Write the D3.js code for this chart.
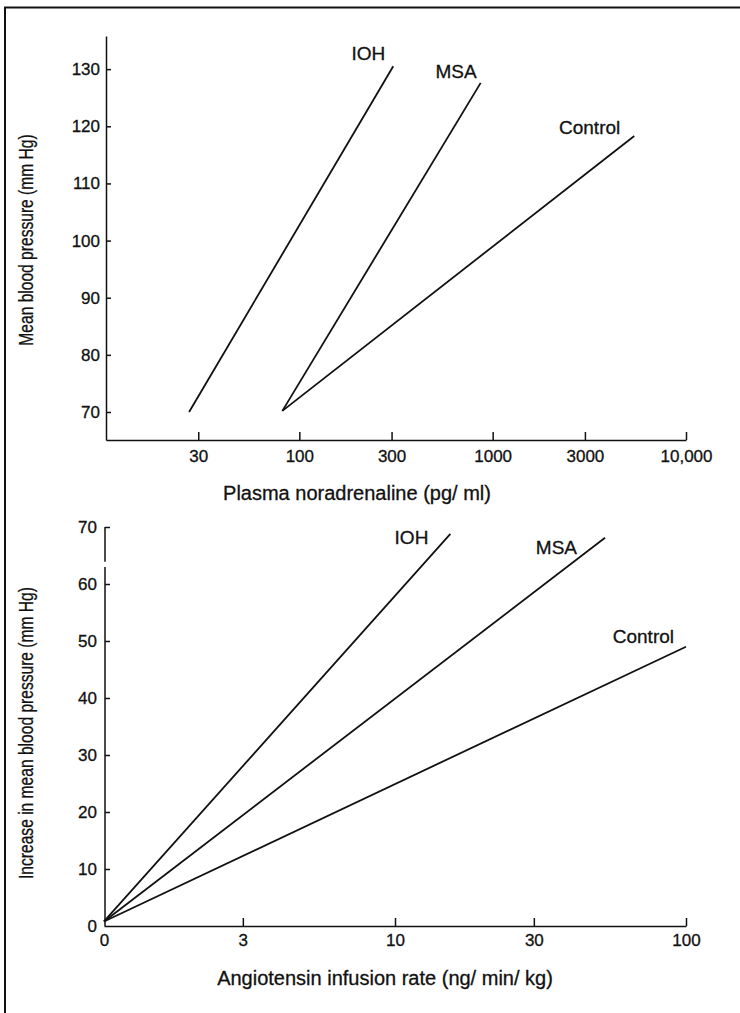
<!DOCTYPE html>
<html>
<head>
<meta charset="utf-8">
<script src="https://cdn.jsdelivr.net/npm/d3@7"></script>
<style>
  body { margin: 0; background: #fff; }
  svg { display: block; }
  text { font-family: "Liberation Sans", Arial, Helvetica, sans-serif; fill: #111; stroke: #111; stroke-width: 0.3px; }
</style>
</head>
<body>
<svg id="fig" width="740" height="1013"></svg>
<script>
// ---- Upper panel: blood pressure vs plasma noradrenaline (log x) ----
const noraGroups = ["IOH", "MSA", "Control"];
const noraStartX = [26.9, 81.7, 81.7];      // pg/ml
const noraEndX   = [306, 867, 5400];
const noraStartY = [70, 70.2, 70.2];        // mm Hg
const noraEndY   = [130.5, 127.6, 118.3];
const noraTicksX = [30, 100, 300, 1000, 3000, 10000];
const noraTickLabelsX = ["30", "100", "300", "1000", "3000", "10,000"];
const noraTicksY = [70, 80, 90, 100, 110, 120, 130];

// ---- Lower panel: rise in blood pressure vs angiotensin infusion (log x) ----
const angioGroups = ["IOH", "MSA", "Control"];
const angioStartX = [0, 0, 0];              // ng/min/kg
const angioEndX   = [15.5, 52.7, 100];
const angioStartY = [0.8, 0.8, 0.8];        // mm Hg increase
const angioEndY   = [68.8, 68.1, 49];
const angioTicksX = [0, 3, 10, 30, 100];
const angioTicksY = [0, 10, 20, 30, 40, 50, 60, 70];

const svg = d3.select("#fig");
const ink = "#111";
const narrow = 0.78;   // condensed lettering for the vertical titles

// outer frame (top and left rules)
svg.append("path")
  .attr("d", "M5,1013 V7.5 H740")
  .attr("fill", "none").attr("stroke", ink).attr("stroke-width", 2);

function styleAxis(g) {
  g.selectAll("path, line").attr("stroke", ink).attr("stroke-width", 1.5);
  g.selectAll("text").attr("font-size", 17).attr("fill", ink)
    .attr("font-family", "\"Liberation Sans\", Arial, sans-serif");
}

// ================= Upper panel =================
const xA = d3.scaleLog().domain([10, 10000]).range([106, 686]);
const yA = d3.scaleLinear().domain([65.1, 135.8]).range([440, 36]);

const axA_x = svg.append("g").attr("transform", `translate(0,${yA.range()[0]})`)
  .call(d3.axisBottom(xA).tickValues(noraTicksX)
    .tickFormat((d, i) => noraTickLabelsX[i])
    .tickSize(-8).tickSizeOuter(0).tickPadding(10));
styleAxis(axA_x);
axA_x.selectAll("text").attr("dy", "0.71em");

const axA_y = svg.append("g").attr("transform", `translate(${xA.range()[0]},0)`)
  .call(d3.axisLeft(yA).tickValues(noraTicksY)
    .tickSize(-5).tickSizeOuter(0).tickPadding(6));
styleAxis(axA_y);

const lineA = d3.line().x(d => xA(d[0])).y(d => yA(d[1]));
const labelOffA = [[-8, -6], [-4, -5], [-14, -2]];
noraGroups.forEach((name, i) => {
  const pts = [[noraStartX[i], noraStartY[i]], [noraEndX[i], noraEndY[i]]];
  svg.append("path").attr("d", lineA(pts))
    .attr("fill", "none").attr("stroke", ink).attr("stroke-width", 1.8);
  svg.append("text")
    .attr("x", xA(noraEndX[i]) + labelOffA[i][0])
    .attr("y", yA(noraEndY[i]) + labelOffA[i][1])
    .attr("text-anchor", "end").attr("font-size", 19)
    .text(name);
});

svg.append("text").attr("x", 357).attr("y", 500)
  .attr("text-anchor", "middle").attr("font-size", 20)
  .text("Plasma noradrenaline (pg/ ml)");
svg.append("text")
  .attr("transform", `translate(33,240) rotate(-90) scale(${narrow},1)`)
  .attr("text-anchor", "middle").attr("font-size", 20)
  .text("Mean blood pressure (mm Hg)");

// ================= Lower panel =================
const logB = d3.scaleLog().domain([1, 100]).range([104, 686]);
const xB = v => logB(Math.max(v, 1));   // zero infusion sits at the axis origin
const yB = d3.scaleLinear().domain([0, 70]).range([926, 527]);

const axB_x = svg.append("g").attr("transform", `translate(0,${yB(0)})`)
  .call(d3.axisBottom(logB).tickValues(angioTicksX.map(v => Math.max(v, 1)))
    .tickFormat((d, i) => String(angioTicksX[i]))
    .tickSize(-8).tickSizeOuter(0).tickPadding(8));
styleAxis(axB_x);
axB_x.selectAll("text").attr("dy", "0.71em");
axB_x.selectAll(".tick").filter((d, i) => i === 0).select("line").remove();

const axB_y = svg.append("g").attr("transform", `translate(${logB.range()[0] + 1},0)`)
  .call(d3.axisLeft(yB).tickValues(angioTicksY)
    .tickSize(-5).tickSizeOuter(0).tickPadding(8));
styleAxis(axB_y);
axB_y.select(".domain").remove();
axB_y.selectAll(".tick").filter(d => d === 0).select("line").remove();
// broken vertical axis
const breakLow = 63.0, breakHigh = 63.9;
[[0, breakLow], [breakHigh, 70]].forEach(seg => {
  axB_y.append("line").attr("x1", 0).attr("x2", 0)
    .attr("y1", yB(seg[0])).attr("y2", yB(seg[1]))
    .attr("stroke", ink).attr("stroke-width", 1.5);
});

const lineB = d3.line().x(d => xB(d[0])).y(d => yB(d[1]));
const labelOffB = [[-22, 10], [-28, 16], [-12, -4]];
angioGroups.forEach((name, i) => {
  const pts = [[angioStartX[i], angioStartY[i]], [angioEndX[i], angioEndY[i]]];
  svg.append("path").attr("d", lineB(pts))
    .attr("fill", "none").attr("stroke", ink).attr("stroke-width", 1.8);
  svg.append("text")
    .attr("x", xB(angioEndX[i]) + labelOffB[i][0])
    .attr("y", yB(angioEndY[i]) + labelOffB[i][1])
    .attr("text-anchor", "end").attr("font-size", 19)
    .text(name);
});

svg.append("text").attr("x", 385).attr("y", 985)
  .attr("text-anchor", "middle").attr("font-size", 20)
  .text("Angiotensin infusion rate (ng/ min/ kg)");
svg.append("text")
  .attr("transform", `translate(33,733) rotate(-90) scale(${narrow},1)`)
  .attr("text-anchor", "middle").attr("font-size", 20)
  .text("Increase in mean blood pressure (mm Hg)");
</script>
</body>
</html>
